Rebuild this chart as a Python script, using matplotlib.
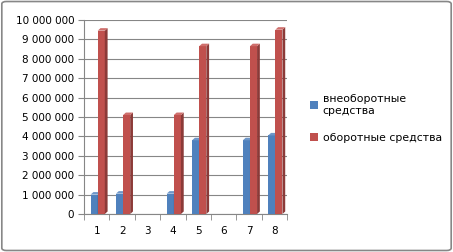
import numpy as np
import matplotlib
matplotlib.use("Agg")
import matplotlib.pyplot as plt
from matplotlib.patches import Polygon, FancyBboxPatch

# ── data ────────────────────────────────────────────────────────────────────
categories = ["1", "2", "3", "4", "5", "6", "7", "8"]
vneob = [1.0e6, 1.05e6, 0, 1.05e6, 3.8e6, 0, 3.8e6, 4.05e6]
obor = [9.45e6, 5.1e6, 0, 5.1e6, 8.65e6, 0, 8.65e6, 9.5e6]
series_names = ["внеоборотные\nсредства", "оборотные средства"]
yticks = np.arange(0, 10_000_001, 1_000_000)

colors = ["#4F81BD", "#C0504D"]
side_colors = ["#385D8A", "#8C3A38"]
top_colors = ["#6F97C9", "#CF6F6C"]

plt.rcParams["font.family"] = "DejaVu Sans"
fig = plt.figure(figsize=(4.53, 2.52), dpi=100)
ax = fig.add_axes([84 / 453, 38 / 252, 203 / 453, 194 / 252])

x = np.arange(1, len(categories) + 1)
w = 0.28
dx, dy = 0.11, 0.13e6   # faux 3-D depth

for i, vals in enumerate([vneob, obor]):
    xs = x - 0.24 + i * w
    ax.bar(xs, vals, width=w, align="edge", color=colors[i], zorder=3,
           label=series_names[i])
    for x0, v in zip(xs, vals):
        if v <= 0:
            continue
        side = Polygon([(x0 + w, 0), (x0 + w + dx, dy), (x0 + w + dx, v + dy),
                        (x0 + w, v)], closed=True, color=side_colors[i], zorder=3,
                       lw=0)
        top = Polygon([(x0, v), (x0 + dx, v + dy), (x0 + w + dx, v + dy),
                       (x0 + w, v)], closed=True, color=top_colors[i], zorder=3,
                      lw=0)
        ax.add_patch(side)
        ax.add_patch(top)

ax.set_xlim(0.5, 8.5)
ax.set_ylim(0, 10_000_000)
ax.set_yticks(yticks)
ax.set_yticklabels([f"{int(v):,}".replace(",", " ") for v in yticks], fontsize=7.5)
ax.set_xticks(x)
ax.set_xticklabels(categories, fontsize=7.5)
ax.set_xticks(np.arange(0.5, 9, 1), minor=True)
ax.tick_params(axis="x", which="major", length=0, pad=9)
ax.tick_params(axis="x", which="minor", length=4, color="#868686")
ax.tick_params(axis="y", length=4, color="#868686", pad=3)
ax.grid(axis="y", color="#868686", lw=0.8, zorder=0)
for s in ["top", "right"]:
    ax.spines[s].set_visible(False)
for s in ["left", "bottom"]:
    ax.spines[s].set_color("#868686")
    ax.spines[s].set_linewidth(0.8)

handles, labels = ax.get_legend_handles_labels()
fig.legend(handles, labels, loc="center left", bbox_to_anchor=(300 / 453, 0.53),
           frameon=False, fontsize=7.8, handlelength=0.8, handleheight=0.8,
           handletextpad=0.4, labelspacing=1.6)

border = FancyBboxPatch((0.004, 0.006), 0.992, 0.988, boxstyle="round,pad=0,rounding_size=0.01",
                        transform=fig.transFigure, fill=False, ec="#878787", lw=1.2)
fig.patches.append(border)

fig.savefig("out.png", dpi=100)
